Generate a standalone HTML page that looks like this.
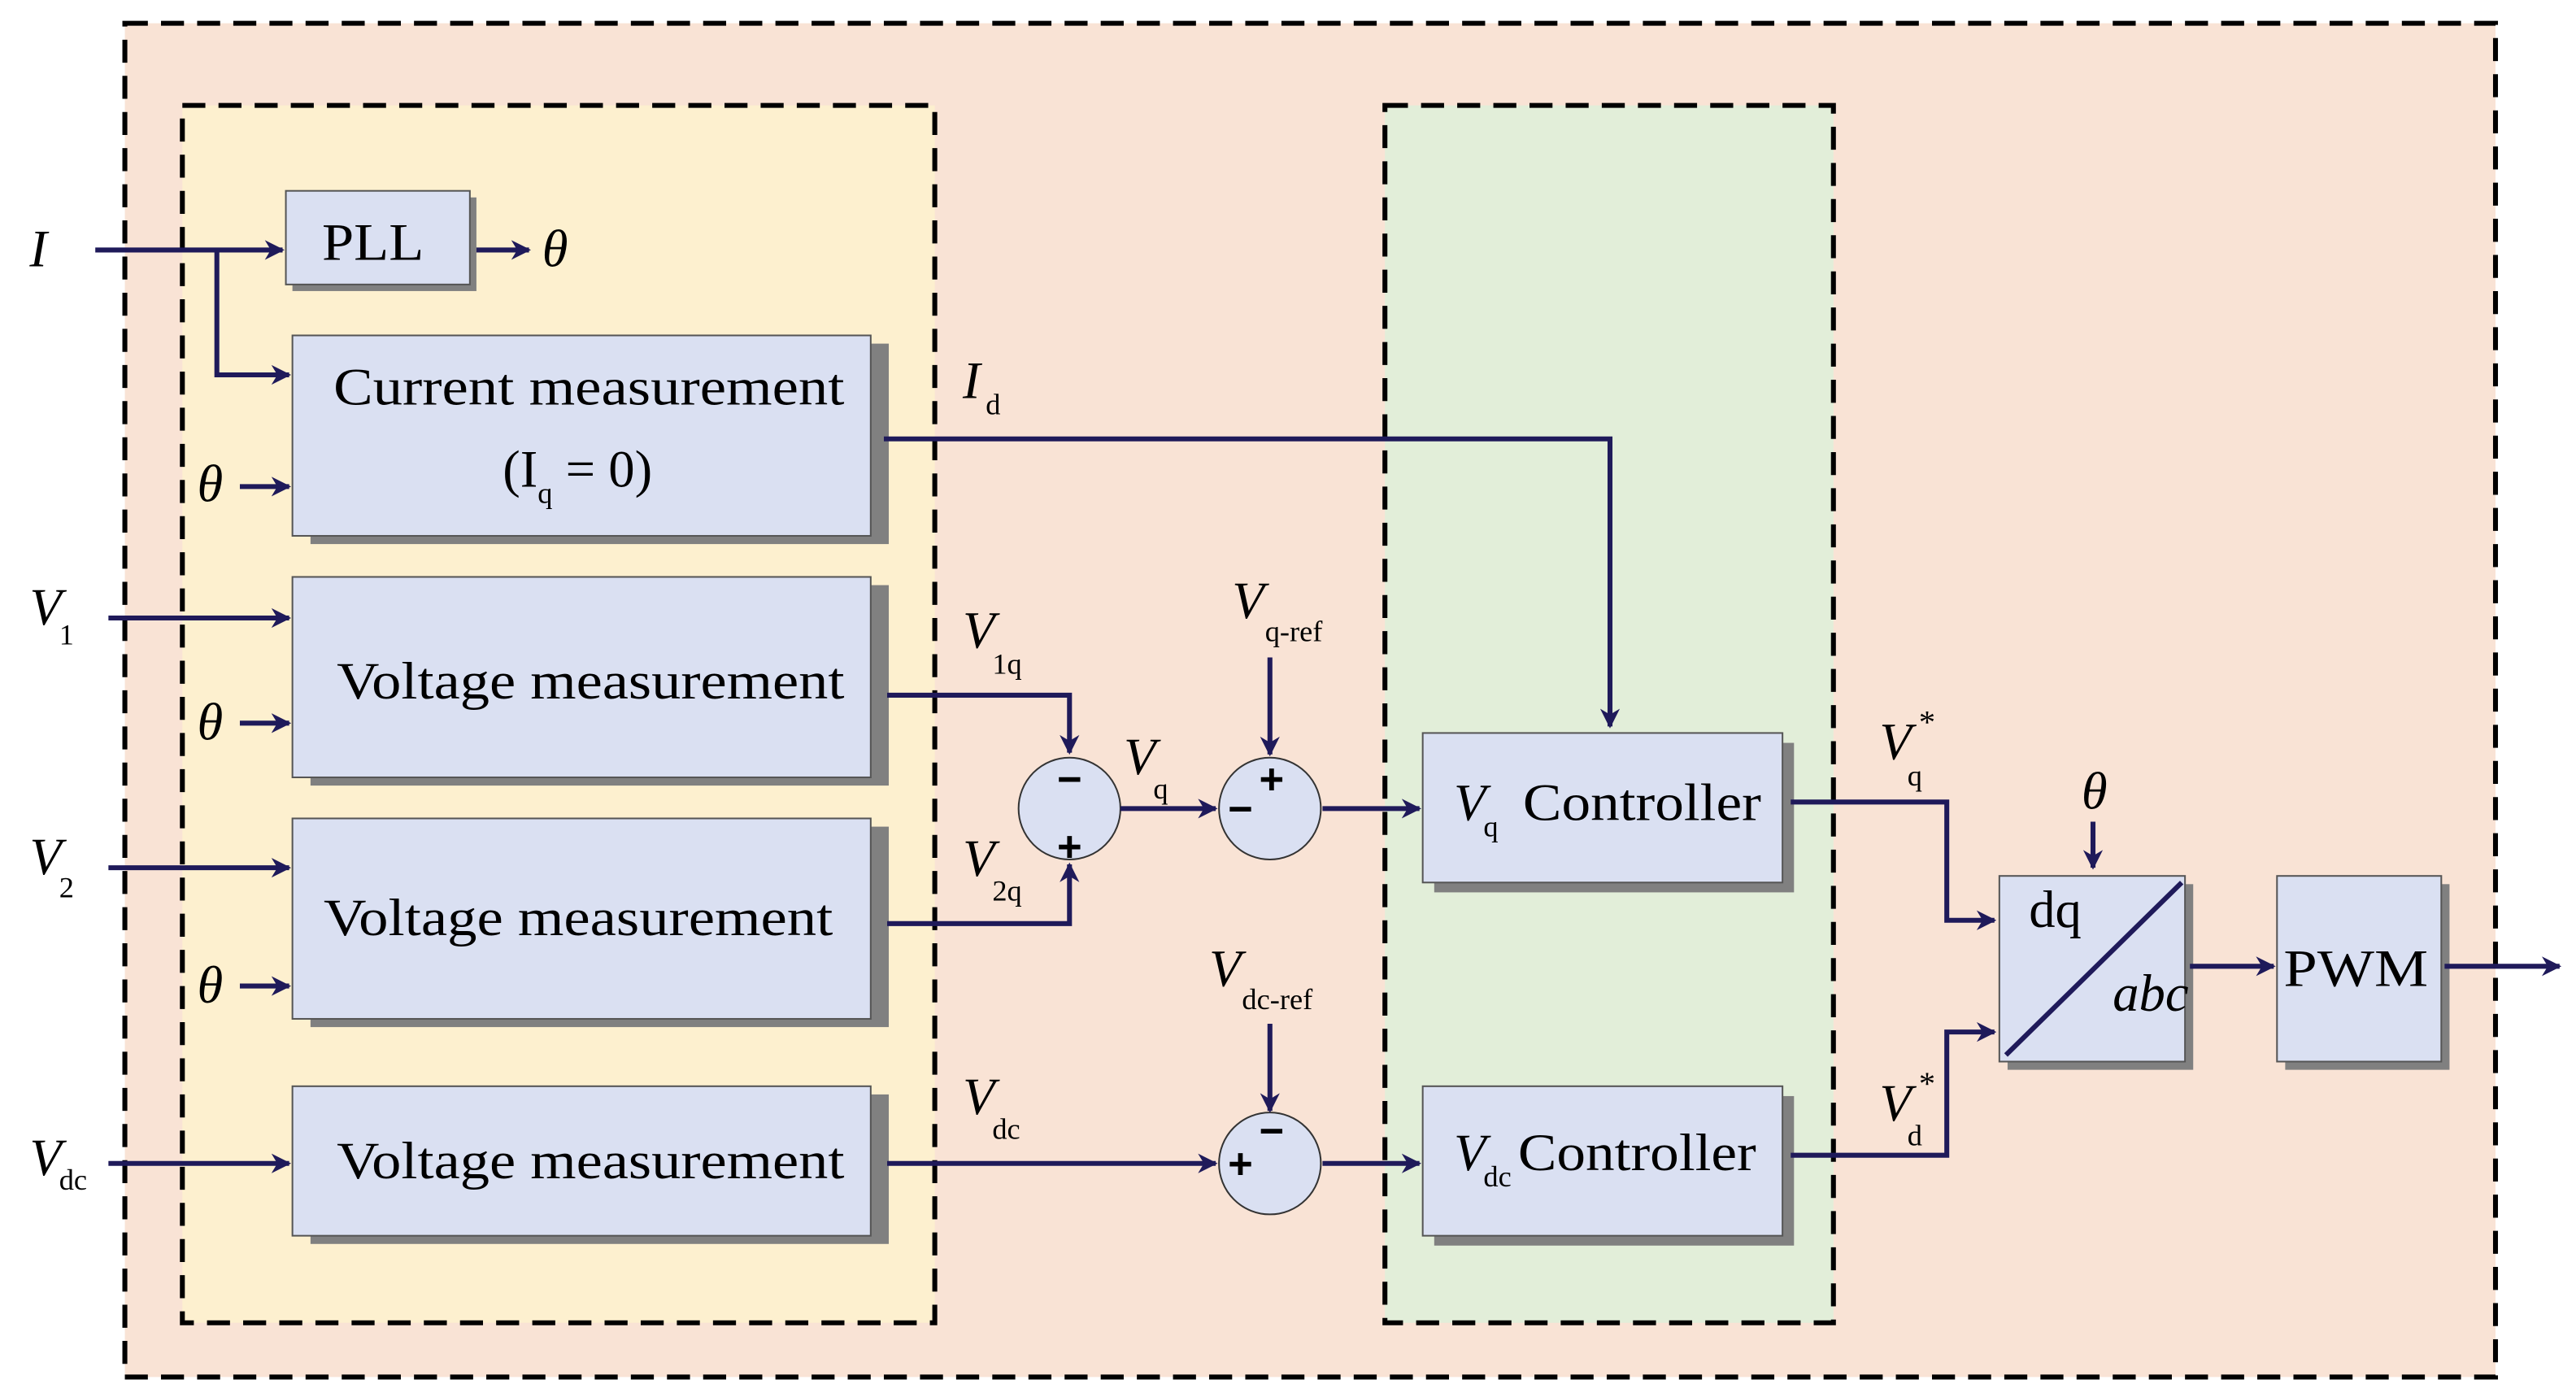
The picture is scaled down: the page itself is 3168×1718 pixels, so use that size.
<!DOCTYPE html>
<html><head><meta charset="utf-8"><style>html,body{margin:0;padding:0;background:#fff}svg{display:block}</style></head>
<body>
<svg width="3168" height="1718" viewBox="0 0 1568 850" xmlns="http://www.w3.org/2000/svg" font-family="'Liberation Serif', serif">
<defs>
<marker id="a" viewBox="0 0 10 10" refX="9" refY="5" markerWidth="4" markerHeight="4" orient="auto" markerUnits="strokeWidth">
<path d="M0,0 L10,5 L0,10 L3,5 z" fill="#1f1a5a"/></marker>
</defs>
<rect x="76" y="14" width="1443" height="824" fill="#f9e3d5" stroke="#000" stroke-width="3" stroke-dasharray="14,8"/>
<rect x="111" y="64" width="458" height="741" fill="#fdf0cf" stroke="#000" stroke-width="3" stroke-dasharray="14,8"/>
<rect x="843" y="64" width="273" height="741" fill="#e2eed9" stroke="#000" stroke-width="3" stroke-dasharray="14,8"/>
<g fill="#808080">
<rect x="178" y="120" width="112" height="57"/>
<rect x="189" y="209" width="352" height="122"/>
<rect x="189" y="356" width="352" height="122"/>
<rect x="189" y="503" width="352" height="122"/>
<rect x="189" y="666" width="352" height="91"/>
<rect x="873" y="452" width="219" height="91"/>
<rect x="873" y="667" width="219" height="91"/>
<rect x="1222" y="538" width="113" height="113"/>
<rect x="1391" y="538" width="100" height="113"/>
</g>
<g fill="#dae0f2" stroke="#555" stroke-width="1">
<rect x="174" y="116" width="112" height="57"/>
<rect x="178" y="204" width="352" height="122"/>
<rect x="178" y="351" width="352" height="122"/>
<rect x="178" y="498" width="352" height="122"/>
<rect x="178" y="661" width="352" height="91"/>
<rect x="866" y="446" width="219" height="91"/>
<rect x="866" y="661" width="219" height="91"/>
<rect x="1217" y="533" width="113" height="113"/>
<rect x="1386" y="533" width="100" height="113"/>
</g>
<line x1="1221" y1="642" x2="1328" y2="537" stroke="#1f1a5a" stroke-width="3"/>
<g fill="#dae0f2" stroke="#333" stroke-width="1">
<circle cx="651" cy="492" r="31"/><circle cx="773" cy="492" r="31"/><circle cx="773" cy="708" r="31"/>
</g>
<g stroke="#1f1a5a" stroke-width="3" fill="none">
<path d="M58,152 H172" marker-end="url(#a)"/>
<path d="M132,152 V228 H176" marker-end="url(#a)"/>
<path d="M290,152 H322" marker-end="url(#a)"/>
<path d="M146,296 H176" marker-end="url(#a)"/>
<path d="M146,440 H176" marker-end="url(#a)"/>
<path d="M146,600 H176" marker-end="url(#a)"/>
<path d="M66,376 H176" marker-end="url(#a)"/>
<path d="M66,528 H176" marker-end="url(#a)"/>
<path d="M66,708 H176" marker-end="url(#a)"/>
<path d="M538,267 H980 V442" marker-end="url(#a)"/>
<path d="M540,423 H651 V458" marker-end="url(#a)"/>
<path d="M540,562 H651 V526" marker-end="url(#a)"/>
<path d="M682,492 H740" marker-end="url(#a)"/>
<path d="M773,400 V459" marker-end="url(#a)"/>
<path d="M805,492 H864" marker-end="url(#a)"/>
<path d="M540,708 H740" marker-end="url(#a)"/>
<path d="M773,623 V676" marker-end="url(#a)"/>
<path d="M805,708 H864" marker-end="url(#a)"/>
<path d="M1090,488 H1185 V560 H1214" marker-end="url(#a)"/>
<path d="M1090,703 H1185 V628 H1214" marker-end="url(#a)"/>
<path d="M1274,500 V528" marker-end="url(#a)"/>
<path d="M1333,588 H1384" marker-end="url(#a)"/>
<path d="M1488,588 H1558" marker-end="url(#a)"/>
</g>
<g font-size="32" fill="#000">
<text x="196" y="158" textLength="62" lengthAdjust="spacingAndGlyphs">PLL</text>
<text x="203" y="246" textLength="311" lengthAdjust="spacingAndGlyphs">Current measurement</text>
<text x="306" y="296">(I<tspan font-size="18" dy="10">q</tspan><tspan dy="-10"> = 0)</tspan></text>
<text x="205" y="425" textLength="309" lengthAdjust="spacingAndGlyphs">Voltage measurement</text>
<text x="197" y="569" textLength="310" lengthAdjust="spacingAndGlyphs">Voltage measurement</text>
<text x="205" y="717" textLength="309" lengthAdjust="spacingAndGlyphs">Voltage measurement</text>
<text x="885" y="499" font-style="italic">V</text><text x="903" y="509" font-size="18">q</text>
<text x="927" y="499" textLength="145" lengthAdjust="spacingAndGlyphs">Controller</text>
<text x="885" y="712" font-style="italic">V</text><text x="903" y="722" font-size="18">dc</text>
<text x="924" y="712" textLength="145" lengthAdjust="spacingAndGlyphs">Controller</text>
<text x="1390" y="600" textLength="88" lengthAdjust="spacingAndGlyphs">PWM</text>
<text x="1235" y="564">dq</text>
<text x="1286" y="615" font-style="italic">abc</text>
<g font-style="italic">
<text x="18" y="162">I</text>
<text x="330" y="162">θ</text>
<text x="120" y="305">θ</text>
<text x="120" y="450">θ</text>
<text x="120" y="610">θ</text>
<text x="1267" y="492">θ</text>
<text x="18" y="380">V</text>
<text x="18" y="532">V</text>
<text x="18" y="715">V</text>
<text x="586" y="242">I</text>
<text x="586" y="394">V</text>
<text x="586" y="533">V</text>
<text x="586" y="678">V</text>
<text x="684" y="471">V</text>
<text x="750" y="376">V</text>
<text x="736" y="600">V</text>
<text x="1144" y="462">V</text>
<text x="1144" y="682">V</text>
</g>
</g>
<g font-size="18" fill="#000">
<text x="36" y="392">1</text>
<text x="36" y="546">2</text>
<text x="36" y="724">dc</text>
<text x="600" y="252">d</text>
<text x="604" y="410">1q</text>
<text x="604" y="548">2q</text>
<text x="604" y="693">dc</text>
<text x="702" y="486">q</text>
<text x="770" y="390">q-ref</text>
<text x="756" y="614">dc-ref</text>
<text x="1161" y="478">q</text>
<text x="1161" y="697">d</text>
<text x="1168" y="446" font-size="20">*</text>
<text x="1168" y="666" font-size="20">*</text>
</g>
<g font-family="'Liberation Sans', sans-serif" font-weight="bold" font-size="26" fill="#000" text-anchor="middle">
<text x="651" y="483">−</text>
<text x="651" y="524">+</text>
<text x="774" y="483">+</text>
<text x="755" y="501">−</text>
<text x="774" y="697">−</text>
<text x="755" y="717">+</text>
</g>
</svg>
</body></html>
